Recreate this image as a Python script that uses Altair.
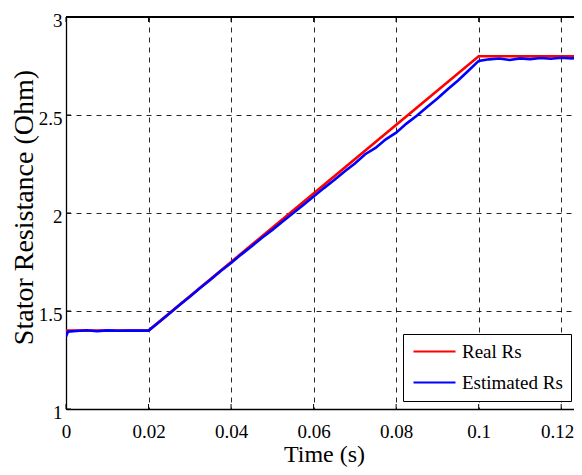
import altair as alt
import pandas as pd

# ---- data ----
t_real = [0.0, 0.02, 0.1, 0.125]
rs_real = [1.4, 1.4, 2.8, 2.8]

t_est = [0.0, 0.0005, 0.0025, 0.005, 0.0075, 0.01, 0.0125, 0.015, 0.0175, 0.02,
         0.0225, 0.025, 0.0275, 0.03, 0.0325, 0.035, 0.0375, 0.04, 0.0425, 0.045,
         0.0475, 0.05, 0.0525, 0.055, 0.0575, 0.06, 0.0625, 0.065, 0.0675, 0.07,
         0.0725, 0.075, 0.0775, 0.08, 0.0825, 0.085, 0.0875, 0.09, 0.0925, 0.095,
         0.0975, 0.1, 0.1025, 0.105, 0.1075, 0.11, 0.1125, 0.115, 0.1175, 0.12,
         0.1225, 0.125]
rs_est = [1.37, 1.395, 1.398, 1.402, 1.397, 1.401, 1.399, 1.400, 1.400, 1.400,
          1.443, 1.486, 1.530, 1.573, 1.617, 1.659, 1.704, 1.745, 1.789, 1.830,
          1.874, 1.914, 1.957, 1.999, 2.041, 2.084, 2.127, 2.168, 2.212, 2.253,
          2.300, 2.332, 2.376, 2.410, 2.456, 2.496, 2.541, 2.584, 2.631, 2.676,
          2.726, 2.776, 2.784, 2.788, 2.781, 2.789, 2.785, 2.791, 2.787, 2.792,
          2.789, 2.793]

x_ticks = [0, 0.02, 0.04, 0.06, 0.08, 0.1, 0.12]
y_ticks = [1, 1.5, 2, 2.5, 3]
x_visible_max = 0.1231  # the axis runs on past the right edge of the picture

series_names = ["Real Rs", "Estimated Rs"]
series_colors = ["#ff0000", "#0000ff"]

real_df = pd.DataFrame({"t": t_real, "rs": rs_real, "series": "Real Rs"})
est_df = pd.DataFrame({"t": t_est, "rs": rs_est, "series": "Estimated Rs"})
xt_df = pd.DataFrame({"t": x_ticks})
yt_df = pd.DataFrame({"rs": y_ticks})

W, H = 508, 392
FONT = "Liberation Serif"

x_scale = alt.Scale(domain=[0, x_visible_max], nice=False, zero=False)
y_scale = alt.Scale(domain=[1, 3], nice=False, zero=False)
color_scale = alt.Scale(domain=series_names, range=series_colors)

x_axis = alt.Axis(values=x_ticks, format="~g", title="Time (s)", ticks=False,
                  domain=True, domainColor="black", domainWidth=1.3,
                  grid=True, gridColor="black", gridDash=[5, 5],
                  gridOpacity=0.85, labelFont=FONT, labelFontSize=19,
                  labelColor="black", labelBaseline="alphabetic", labelPadding=28,
                  labelOffset={"condition": {"test": "datum.value > 0.11", "value": -4},
                               "value": 0},
                  labelFlush=False, titleFont=FONT, titleFontSize=24,
                  titleFontWeight="normal", titleColor="black",
                  titleBaseline="alphabetic", titleY=52, titleX=258)
y_axis = alt.Axis(values=y_ticks, format="~g", title="Stator Resistance (Ohm)",
                  ticks=False, domain=True, domainColor="black", domainWidth=1.3,
                  grid=True, gridColor="black",
                  gridDash=[5, 5], gridOpacity=0.85, labelFont=FONT,
                  labelFontSize=19, labelColor="black", labelPadding=4,
                  labelOffset=3, labelFlush=False, titleFont=FONT,
                  titleFontSize=28, titleFontWeight="normal",
                  titleColor="black", titleAngle=-90, titleAlign="center",
                  titleBaseline="alphabetic", titleX=-34, titleY=190)

legend = alt.Legend(title=None, orient="none", legendX=337, legendY=317,
                    padding=8, strokeColor="black", fillColor="white",
                    cornerRadius=0, labelFont=FONT, labelFontSize=19,
                    labelColor="black", labelLimit=0, symbolType="M-1,0H5",
                    symbolSize=196, symbolStrokeWidth=2.2, labelOffset=32,
                    rowPadding=11)

real_line = alt.Chart(real_df).mark_line(strokeWidth=2.6, clip=True).encode(
    x=alt.X("t:Q", scale=x_scale, axis=x_axis),
    y=alt.Y("rs:Q", scale=y_scale, axis=y_axis),
    color=alt.Color("series:N", scale=color_scale, legend=legend),
)
est_line = alt.Chart(est_df).mark_line(strokeWidth=2.6, clip=True).encode(
    x=alt.X("t:Q", scale=x_scale),
    y=alt.Y("rs:Q", scale=y_scale),
    color=alt.Color("series:N", scale=color_scale, legend=legend),
)

tick_bottom = alt.Chart(xt_df).mark_rule(color="black").encode(
    x=alt.X("t:Q", scale=x_scale), y=alt.value(H), y2=alt.value(H - 5))
tick_top = alt.Chart(xt_df).mark_rule(color="black").encode(
    x=alt.X("t:Q", scale=x_scale), y=alt.value(0), y2=alt.value(5))
tick_left = alt.Chart(yt_df).mark_rule(color="black").encode(
    y=alt.Y("rs:Q", scale=y_scale), x=alt.value(0), x2=alt.value(5))
top_border = alt.Chart(xt_df).mark_rule(color="black", strokeWidth=1.3).encode(
    x=alt.value(0), x2=alt.value(W), y=alt.value(0))

chart = alt.layer(real_line, est_line, tick_bottom, tick_top, tick_left,
                  top_border).properties(
    width=W, height=H,
    autosize=alt.AutoSizeParams(type="none"),
    padding={"left": 58, "top": 9, "right": 0, "bottom": 58},
    background="white",
).configure_view(stroke=None)

chart.save("out.html", embed_options={"renderer": "svg", "actions": False})
